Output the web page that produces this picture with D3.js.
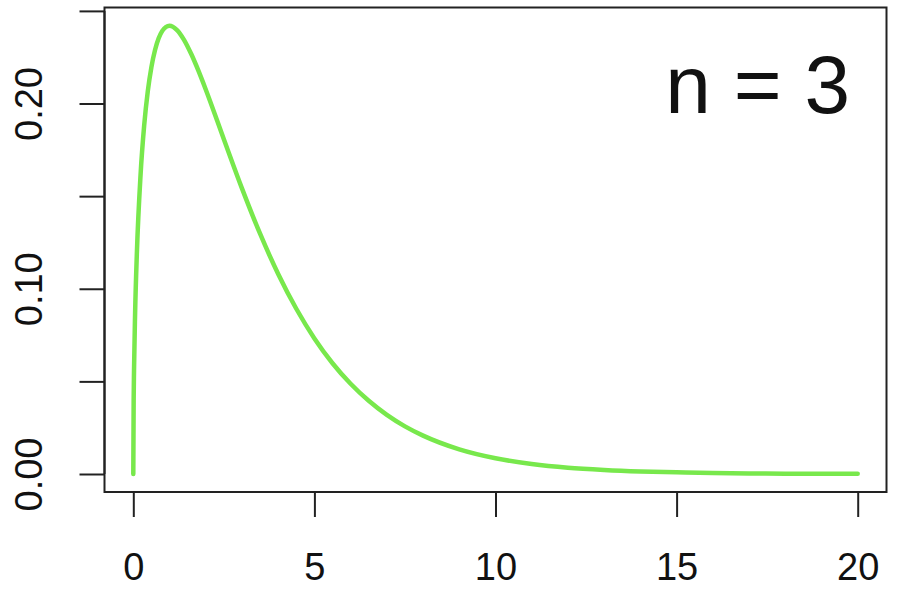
<!DOCTYPE html>
<html><head><meta charset="utf-8">
<script src="https://cdn.jsdelivr.net/npm/d3@7"></script>
<style>body{margin:0;background:#fff}svg{display:block}</style>
</head><body>
<svg id="c" width="908" height="606"></svg>
<script>
// Density curve
const xValues = [0, 0.01, 0.02, 0.05, 0.1, 0.2, 0.3, 0.4, 0.5, 0.6, 0.7, 0.8, 0.9, 1.0, 1.2, 1.4, 1.6, 1.8, 2.0, 2.5, 3.0, 3.5, 4.0, 4.5, 5.0, 5.5, 6.0, 6.5, 7.0, 7.5, 8.0, 9.0, 10, 11, 12, 13, 14, 15, 16, 17, 18, 19, 20];
const yValues = [0, 0.0397, 0.0559, 0.0870, 0.1200, 0.1614, 0.1881, 0.2066, 0.2197, 0.2289, 0.2352, 0.2392, 0.2413, 0.2420, 0.2398, 0.2344, 0.2267, 0.2176, 0.2076, 0.1807, 0.1542, 0.1297, 0.1080, 0.0892, 0.0732, 0.0598, 0.0487, 0.0395, 0.0319, 0.0257, 0.0207, 0.0133, 0.0085, 0.0054, 0.0034, 0.0022, 0.0014, 0.0009, 0.0005, 0.0003, 0.0002, 0.0001, 0.0001];
const xTicks = [0, 5, 10, 15, 20];
const yTicks = [0, 0.05, 0.10, 0.15, 0.20, 0.25];
const yTickLabels = ["0.00", "", "0.10", "", "0.20", ""];
const annotation = "n = 3";

const svg = d3.select("#c");
const box = {left: 104.5, right: 886.5, top: 7.5, bottom: 492};
const x = d3.scaleLinear().domain([0, 20]).range([133.3, 857.7]);
const y = d3.scaleLinear().domain([0, 0.25]).range([474, 10.9]);
const font = "'Liberation Sans', Arial, Helvetica, sans-serif";

// plot box
svg.append("rect").attr("x", box.left).attr("y", box.top)
  .attr("width", box.right - box.left).attr("height", box.bottom - box.top)
  .attr("fill", "none").attr("stroke", "#222").attr("stroke-width", 2);

// x axis
const xa = svg.append("g").attr("transform", `translate(0,${box.bottom})`)
  .call(d3.axisBottom(x).tickValues(xTicks).tickSize(25).tickPadding(36).tickFormat(d3.format("d")));
xa.select(".domain").attr("stroke", "#222").attr("stroke-width", 2)
  .attr("d", `M${x(0)},0H${x(20)}`);
xa.selectAll(".tick line").attr("stroke", "#222").attr("stroke-width", 2);
xa.selectAll(".tick text").attr("font-family", font).attr("font-size", 38).attr("fill", "#111");

// y axis
const ya = svg.append("g").attr("transform", `translate(${box.left},0)`)
  .call(d3.axisLeft(y).tickValues(yTicks).tickSize(25).tickFormat((d, i) => yTickLabels[i]));
ya.select(".domain").attr("stroke", "#222").attr("stroke-width", 2)
  .attr("d", `M0,${y(0)}V${y(0.25)}`);
ya.selectAll(".tick line").attr("stroke", "#222").attr("stroke-width", 2);
ya.selectAll(".tick text").attr("font-family", font).attr("font-size", 38).attr("fill", "#111")
  .attr("text-anchor", "middle").attr("dy", null).attr("x", null)
  .attr("transform", "translate(-73,0) rotate(-90)").attr("dominant-baseline", "middle");

// curve
const pts = xValues.map((v, i) => [v, yValues[i]]);
svg.append("path").datum(pts)
  .attr("d", d3.line().x(d => x(d[0])).y(d => y(d[1])).curve(d3.curveMonotoneX))
  .attr("fill", "none").attr("stroke", "#78e84c").attr("stroke-width", 4.5)
  .attr("stroke-linecap", "round").attr("stroke-linejoin", "round");

// annotation
svg.append("text").attr("x", 850).attr("y", 113).attr("text-anchor", "end")
  .attr("font-family", font).attr("font-size", 82).attr("fill", "#111").text(annotation);
</script>
</body></html>
